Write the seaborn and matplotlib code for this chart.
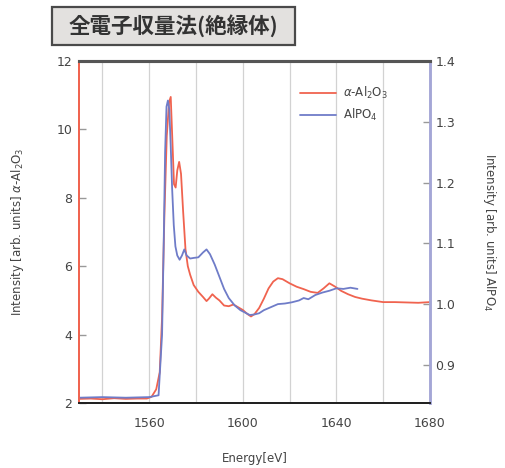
import numpy as np
import pandas as pd
import matplotlib
matplotlib.use("Agg")
import matplotlib.pyplot as plt
from matplotlib.patches import Rectangle
import seaborn as sns

# --- data -------------------------------------------------------------
# alpha-Al2O3 spectrum (left axis)
al2o3_energy = [1530, 1535, 1540, 1545, 1550, 1555, 1559, 1561, 1563, 1564.5,
                1565.5, 1566.5, 1567.5, 1568.5, 1569.2, 1570, 1570.6, 1571.3,
                1572, 1572.8, 1573.6, 1574.5, 1575.5, 1576.5, 1577.5, 1579,
                1581, 1583, 1584.5, 1585.5, 1587, 1588.5, 1590, 1592, 1594,
                1596, 1598, 1600, 1602, 1603.5, 1605, 1607, 1609, 1611, 1613,
                1615, 1617, 1620, 1623, 1626, 1629, 1632, 1634.5, 1637, 1639.5,
                1642, 1645, 1648, 1651, 1655, 1660, 1665, 1670, 1675, 1680]
al2o3_intensity = [2.12, 2.13, 2.11, 2.14, 2.12, 2.13, 2.13, 2.18, 2.4, 2.9,
                   4.5, 7.5, 9.8, 10.8, 10.95, 9.5, 8.4, 8.3,
                   8.8, 9.05, 8.7, 7.6, 6.5, 6.0, 5.75, 5.45,
                   5.25, 5.1, 4.98, 5.05, 5.18, 5.08, 5.0, 4.85, 4.83,
                   4.88, 4.8, 4.72, 4.6, 4.53, 4.6, 4.78, 5.05, 5.35, 5.55,
                   5.65, 5.62, 5.5, 5.4, 5.33, 5.25, 5.22, 5.35, 5.5, 5.4,
                   5.28, 5.18, 5.1, 5.05, 5.0, 4.95, 4.95, 4.94, 4.93, 4.95]

# AlPO4 spectrum (right axis)
alpo4_energy = [1530, 1540, 1550, 1560, 1564, 1565.5, 1566.2, 1566.8, 1567.4,
                1568.0, 1568.6, 1569.2, 1569.8, 1570.5, 1571.2, 1572, 1573,
                1574, 1575, 1576, 1577.5, 1579, 1581, 1583, 1584.5, 1586, 1588,
                1590, 1592, 1594, 1596.5, 1599, 1601, 1603, 1605, 1607, 1609,
                1612, 1615, 1618, 1621, 1624, 1626, 1628, 1631, 1634, 1637,
                1640, 1643, 1646, 1649]
alpo4_intensity = [0.846, 0.847, 0.846, 0.847, 0.85, 0.95, 1.1, 1.25, 1.325,
                   1.335, 1.32, 1.26, 1.19, 1.13, 1.095, 1.08, 1.073,
                   1.08, 1.09, 1.08, 1.075, 1.076, 1.077, 1.085, 1.09, 1.082, 1.065,
                   1.045, 1.025, 1.01, 0.998, 0.99, 0.986, 0.982, 0.983, 0.985, 0.99,
                   0.995, 1.0, 1.001, 1.003, 1.006, 1.01, 1.008, 1.015, 1.019, 1.022,
                   1.026, 1.025, 1.027, 1.025]

x_ticks = [1560, 1600, 1640, 1680]
left_ticks = [2, 4, 6, 8, 10, 12]
right_ticks = [0.9, 1.0, 1.1, 1.2, 1.3, 1.4]

# --- style ------------------------------------------------------------
sns.set_style("white")
plt.rcParams["font.family"] = ["DejaVu Sans", "Noto Sans CJK JP"]

red = "#f0634f"
blue = "#6f7cc8"
text_col = "#444444"

df_a = pd.DataFrame({"Energy": al2o3_energy, "Intensity": al2o3_intensity})
df_b = pd.DataFrame({"Energy": alpo4_energy, "Intensity": alpo4_intensity})

fig = plt.figure(figsize=(5.05, 4.68), dpi=100)
ax = fig.add_axes([79 / 505, 1 - 403 / 468, (430 - 79) / 505, (403 - 61) / 468])
ax2 = ax.twinx()

# vertical grid every 20 eV
for e in range(1540, 1680, 20):
    ax.axvline(e, color="#d2d2d2", lw=0.9, zorder=0)

sns.lineplot(data=df_a, x="Energy", y="Intensity", ax=ax, color=red, lw=1.3,
             label=r"$\alpha$-Al$_2$O$_3$", legend=False, sort=False)
sns.lineplot(data=df_b, x="Energy", y="Intensity", ax=ax2, color=blue, lw=1.3,
             label=r"AlPO$_4$", legend=False, sort=False)

ax.set_xlim(1530, 1680)
ax.set_ylim(2, 12)
ax2.set_ylim(0.8373, 1.4)

ax.set_xticks(x_ticks)
ax.set_xticks(range(1540, 1680, 20), minor=True)
ax.set_yticks(left_ticks)
ax2.set_yticks(right_ticks)
ax2.set_yticklabels([f"{v:.1f}" for v in right_ticks])

ax.tick_params(axis="x", which="both", direction="in", length=4, width=1,
               colors="#222222", labelcolor=text_col, labelsize=9, pad=10)
ax.tick_params(axis="y", direction="in", length=5, width=1, colors="#999999",
               labelcolor=text_col, labelsize=9, pad=5)
ax2.tick_params(axis="y", direction="in", length=5, width=1, colors="#999999",
                labelcolor=text_col, labelsize=9, pad=4)

for a in (ax, ax2):
    a.spines["left"].set_color(red)
    a.spines["left"].set_linewidth(1.3)
    a.spines["right"].set_color("#a4a6d6")
    a.spines["right"].set_linewidth(1.8)
    a.spines["top"].set_color("#555555")
    a.spines["top"].set_linewidth(2.2)
    a.spines["bottom"].set_color("#222222")
    a.spines["bottom"].set_linewidth(1.4)

ax.set_xlabel("Energy[eV]", fontsize=8.5, color=text_col, labelpad=16)
ax.set_ylabel(r"Intensity [arb. units] $\alpha$-Al$_2$O$_3$", fontsize=8.5,
              color=text_col, labelpad=22)
ax2.set_ylabel(r"Intensity [arb. units] AlPO$_4$", fontsize=8.5,
               color=text_col, rotation=-90, labelpad=31)

# legend
handles = ax.get_lines()[-1:] + ax2.get_lines()[-1:]
leg = ax.legend(handles, [r"$\alpha$-Al$_2$O$_3$", r"AlPO$_4$"],
                loc="upper left", bbox_to_anchor=(0.6, 0.96), frameon=False,
                fontsize=8.5, handlelength=3, handletextpad=0.6,
                labelspacing=0.5)
for t in leg.get_texts():
    t.set_color(text_col)

# title box
fig.patches.append(Rectangle((52 / 505, 1 - 45 / 468), (295 - 52) / 505,
                             (45 - 7) / 468, transform=fig.transFigure,
                             facecolor="#e3e1df", edgecolor="#4a4a4a", lw=1.6,
                             zorder=0))
fig.text(173 / 505, 1 - 26 / 468, "全電子収量法(絶縁体)", ha="center",
         va="center", fontsize=15.5, fontweight="bold", color="#333333",
         family=["Noto Sans CJK JP", "DejaVu Sans"])

fig.savefig("out.png", dpi=100)
